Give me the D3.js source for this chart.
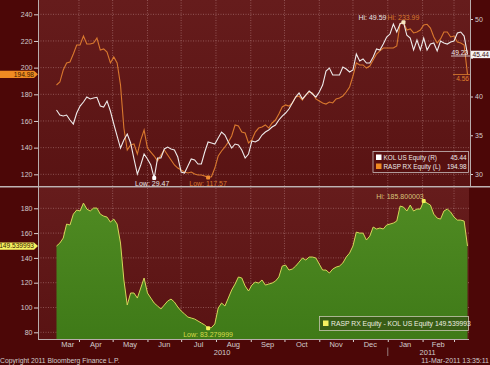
<!DOCTYPE html>
<html><head><meta charset="utf-8">
<script src="https://cdn.jsdelivr.net/npm/d3@7"></script>
<style>
body{margin:0;background:#4c0707;}
svg{display:block;font-family:"Liberation Sans",Arial,sans-serif;}
</style>
</head><body>
<svg id="c" width="490" height="365"></svg>
<script>
// ---------------- DATA ----------------
const dates = [
"2010-03-12","2010-03-15","2010-03-18","2010-03-21","2010-03-24","2010-03-27","2010-03-30",
"2010-04-02","2010-04-05","2010-04-08","2010-04-11","2010-04-14","2010-04-17","2010-04-20","2010-04-23","2010-04-26","2010-04-29",
"2010-05-02","2010-05-05","2010-05-08","2010-05-11","2010-05-14","2010-05-17","2010-05-20","2010-05-23","2010-05-26","2010-05-29",
"2010-06-01","2010-06-04","2010-06-07","2010-06-10","2010-06-13","2010-06-16","2010-06-19","2010-06-22","2010-06-25","2010-06-28",
"2010-07-01","2010-07-04","2010-07-07","2010-07-10","2010-07-13","2010-07-16","2010-07-19","2010-07-22","2010-07-25","2010-07-28","2010-07-31",
"2010-08-03","2010-08-06","2010-08-09","2010-08-12","2010-08-15","2010-08-18","2010-08-21","2010-08-24","2010-08-27","2010-08-30",
"2010-09-02","2010-09-05","2010-09-08","2010-09-11","2010-09-14","2010-09-17","2010-09-20","2010-09-23","2010-09-26","2010-09-29",
"2010-10-02","2010-10-05","2010-10-08","2010-10-11","2010-10-14","2010-10-17","2010-10-20","2010-10-23","2010-10-26","2010-10-29",
"2010-11-01","2010-11-04","2010-11-07","2010-11-10","2010-11-13","2010-11-16","2010-11-19","2010-11-22","2010-11-25","2010-11-28",
"2010-12-01","2010-12-04","2010-12-07","2010-12-10","2010-12-13","2010-12-16","2010-12-19","2010-12-22","2010-12-25","2010-12-28","2010-12-31",
"2011-01-03","2011-01-06","2011-01-09","2011-01-12","2011-01-15","2011-01-18","2011-01-21","2011-01-24","2011-01-27","2011-01-30",
"2011-02-02","2011-02-05","2011-02-08","2011-02-11","2011-02-14","2011-02-17","2011-02-20","2011-02-23","2011-02-26",
"2011-03-01","2011-03-04","2011-03-07","2011-03-10","2011-03-13"
];
// RASP RX Equity (left axis)
const raspValues = [
187.0,189.2,198.2,203.5,204.2,210.2,217.0,217.0,223.7,217.7,
217.7,218.5,222.2,213.2,214.0,211.7,203.5,208.0,203.5,187.0,
154.7,138.2,142.0,142.7,135.2,145.7,153.2,139.7,136.7,133.7,
130.0,134.5,138.2,134.5,130.7,127.0,124.7,123.2,121.7,121.0,
121.7,120.2,119.5,119.5,118.7,117.57,118.2,124.7,133.7,137.5,
140.5,144.2,148.7,157.0,156.2,151.7,151.0,143.5,145.7,151.7,
154.7,155.5,157.0,154.7,158.5,160.7,165.2,170.5,172.0,171.2,
173.5,178.0,178.7,175.7,179.5,181.7,181.0,176.5,175.0,173.5,
172.7,174.2,173.5,176.5,177.2,178.7,181.7,185.5,193.7,203.5,
202.0,202.0,199.7,201.2,205.7,210.2,212.5,214.7,214.7,214.7,
214.7,216.2,233.2,233.99,228.2,229.0,226.0,226.7,228.2,232.0,
232.5,229.7,223.0,218.5,221.5,226.7,226.7,223.0,223.7,219.2,
218.5,217.0,194.98
];
// KOL US Equity (right axis)
const kolValues = [
38.26,37.61,37.48,37.61,36.97,36.45,37.87,38.77,39.29,39.93,
39.68,39.80,39.90,38.77,38.64,39.42,38.13,36.45,34.90,33.35,
34.39,35.16,34.00,31.94,30.00,31.16,32.58,31.94,31.16,29.47,
32.06,32.06,33.23,33.48,33.23,33.10,32.19,30.26,30.13,31.03,
31.94,31.81,31.29,31.29,32.84,34.13,34.00,33.87,34.64,35.42,
35.03,34.13,33.35,33.87,33.74,33.10,32.06,32.58,34.26,34.13,
34.39,35.03,35.42,35.68,36.06,36.32,36.97,37.48,37.87,38.39,
39.16,39.93,40.45,39.68,40.19,40.71,40.32,39.93,40.58,41.48,
43.29,43.67,42.77,42.77,42.77,43.80,43.55,43.16,43.42,45.48,
44.58,44.84,44.32,44.32,45.09,46.13,46.00,46.77,47.67,48.06,
49.35,48.32,49.40,49.59,47.90,47.54,46.00,47.29,46.00,47.54,
46.00,46.77,46.90,45.87,47.16,46.90,46.77,47.03,47.16,48.19,
48.32,47.80,45.44
];
// RASP RX Equity - KOL US Equity
const spreadValues = [
149.56,152.0,156.0,167.3,166.5,175.3,178.6,177.8,184.2,179.4,
177.8,180.2,180.2,175.3,173.7,172.9,168.9,171.3,167.3,152.0,
122.2,102.0,111.7,111.7,107.6,115.7,123.8,111.7,107.6,103.6,
101.2,98.8,102.0,105.2,106.8,104.4,100.4,97.2,94.8,92.3,
91.5,90.7,89.1,87.5,85.9,83.28,83.8,86.7,99.6,103.6,
101.2,107.6,114.1,118.9,124.6,123.8,117.3,113.3,118.1,120.5,
119.7,122.2,118.1,118.9,119.7,121.3,124.6,133.4,134.2,130.2,
131.0,133.4,136.6,139.9,138.3,140.7,140.7,139.9,135.0,130.2,
130.2,127.8,131.0,132.6,133.4,135.9,140.7,143.9,149.6,160.8,
160.0,160.0,154.4,157.6,164.9,163.3,164.1,163.3,166.5,167.3,
168.1,169.7,181.8,181.0,177.8,182.6,177.8,179.4,179.4,185.8,
184.2,182.6,175.3,172.1,171.3,177.8,179.4,177.0,172.9,170.5,
170.5,169.7,149.54
];
const leftTicks = [120,140,160,180,200,220,240];
const rightTicks = [30,35,40,45,50];
const spreadTicks = [80,100,120,140,160,180];
const monthStarts = ["2010-03-01","2010-04-01","2010-05-01","2010-06-01","2010-07-01","2010-08-01","2010-09-01","2010-10-01","2010-11-01","2010-12-01","2011-01-01","2011-02-01","2011-03-01"];
const monthLabels = ["Mar","Apr","May","Jun","Jul","Aug","Sep","Oct","Nov","Dec","Jan","Feb"];
const yearLabels = ["2010","2011"];
const yearStarts = ["2010-01-01","2011-01-01","2012-01-01"];
const seriesNames = ["KOL US Equity (R)","RASP RX Equity (L)","RASP RX Equity - KOL US Equity"];
const extraLabels = ["49.22","4.56"];

// ---------------- CHART ----------------
const svg = d3.select("#c");
const parse = d3.timeParse("%Y-%m-%d");
const dt = dates.map(parse);
const first = dt[0], last = dt[dt.length-1];

const P1 = {l:38, r:470, t:0, b:186};
const P2 = {l:38, r:469, t:188, b:339};

const x = d3.scaleTime().domain([first,last]).range([56.5,467.5]);
const yL = d3.scaleLinear().domain([120,240]).range([174.3,14.3]);
const yR = d3.scaleLinear().domain([30,50]).range([174,19]);
const yB = d3.scaleLinear().domain([80,180]).range([332.3,208.3]);

const TXT = "#d2cccc", GRID = "rgba(230,190,190,0.45)";
const fmt2 = d3.format(".2f");
const lastR = raspValues[raspValues.length-1], lastK = kolValues[kolValues.length-1], lastS = spreadValues[spreadValues.length-1];

svg.append("rect").attr("width",490).attr("height",365).attr("fill","#4c0707");

const defs = svg.append("defs");
const bg = defs.append("linearGradient").attr("id","bg").attr("x1",0).attr("y1",0).attr("x2",0).attr("y2",1);
bg.append("stop").attr("offset","0").attr("stop-color","#661c1c");
bg.append("stop").attr("offset","1").attr("stop-color","#591313");
const gg = defs.append("linearGradient").attr("id","gg").attr("x1",0).attr("y1",0).attr("x2",0).attr("y2",1);
gg.append("stop").attr("offset","0").attr("stop-color","#4f8a22");
gg.append("stop").attr("offset","1").attr("stop-color","#3f7a18");
defs.append("clipPath").attr("id","c1").append("rect").attr("x",P1.l).attr("y",P1.t).attr("width",P1.r-P1.l).attr("height",P1.b-P1.t);
defs.append("clipPath").attr("id","c2").append("rect").attr("x",P2.l).attr("y",P2.t).attr("width",P2.r-P2.l).attr("height",P2.b-P2.t);

[P1,P2].forEach(p=>svg.append("rect").attr("x",p.l).attr("y",p.t).attr("width",p.r-p.l).attr("height",p.b-p.t).attr("fill","url(#bg)"));

// grids
const mDates = monthStarts.map(parse);
const gridMonths = mDates.slice(1);
function grid(p, yScale, ticks, cid){
  const g = svg.append("g").attr("clip-path",`url(#${cid})`).attr("stroke",GRID).attr("stroke-width",0.8).attr("stroke-dasharray","1,1.5");
  g.selectAll("line.h").data(ticks).join("line").attr("x1",p.l).attr("x2",p.r).attr("y1",d=>yScale(d)).attr("y2",d=>yScale(d));
  g.selectAll("line.v").data(gridMonths).join("line").attr("x1",d=>x(d)).attr("x2",d=>x(d)).attr("y1",p.t).attr("y2",p.b);
}
grid(P1,yL,leftTicks,"c1");
grid(P2,yB,spreadTicks,"c2");

// lines and area
const lineL = d3.line().x((d,i)=>x(dt[i])).y(d=>yL(d));
const lineR = d3.line().x((d,i)=>x(dt[i])).y(d=>yR(d));
const lineB = d3.line().x((d,i)=>x(dt[i])).y(d=>yB(d));
const areaB = d3.area().x((d,i)=>x(dt[i])).y0(P2.b).y1(d=>yB(d));

const g1 = svg.append("g").attr("clip-path","url(#c1)");
g1.append("path").datum(raspValues).attr("d",lineL).attr("fill","none").attr("stroke","#d9782e").attr("stroke-width",1.1);
g1.append("path").datum(kolValues).attr("d",lineR).attr("fill","none").attr("stroke","#eeeaea").attr("stroke-width",1.1);

const g2 = svg.append("g").attr("clip-path","url(#c2)");
g2.append("path").datum(spreadValues).attr("d",areaB).attr("fill","url(#gg)");
g2.append("path").datum(spreadValues).attr("d",lineB).attr("fill","none").attr("stroke","#d6d65a").attr("stroke-width",1);

// axes
function styleAxis(g){
  g.selectAll("text").attr("fill",TXT).style("font-size","7px").style("font-family","'Liberation Sans',Arial,sans-serif");
  g.selectAll("line").attr("stroke","#d8d0d0");
  g.select(".domain").remove();
}
svg.append("g").attr("transform",`translate(${P1.l},0)`).call(d3.axisLeft(yL).tickValues(leftTicks).tickSize(4).tickPadding(1.5)).call(styleAxis);
// the right-axis label that sits under the last-value tag is hidden by it in the reference
svg.append("g").attr("transform",`translate(${P1.r},0)`)
  .call(d3.axisRight(yR).tickValues(rightTicks).tickSize(3).tickPadding(2)
    .tickFormat(d=>Math.abs(yR(d)-yR(lastK))<8 ? "" : d))
  .call(styleAxis);
svg.append("g").attr("transform",`translate(${P2.l},0)`).call(d3.axisLeft(yB).tickValues(spreadTicks).tickSize(4).tickPadding(1.5)).call(styleAxis);
svg.append("g").attr("transform",`translate(0,${P2.b})`).call(d3.axisBottom(x).tickValues(gridMonths).tickSize(3).tickFormat("")).call(styleAxis);

// frame lines
const fr = svg.append("g").attr("stroke","#b9acac");
fr.append("line").attr("x1",P1.l+0.5).attr("x2",P1.l+0.5).attr("y1",0).attr("y2",P2.b).attr("stroke-width",1);
fr.append("line").attr("x1",P1.r+0.5).attr("x2",P1.r+0.5).attr("y1",0).attr("y2",P1.b).attr("stroke-width",1);
fr.append("line").attr("x1",0).attr("x2",490).attr("y1",186.8).attr("y2",186.8).attr("stroke-width",1.6).attr("stroke","#bfb3b3");
fr.append("line").attr("x1",P2.l).attr("x2",P2.r).attr("y1",P2.b+0.5).attr("y2",P2.b+0.5).attr("stroke-width",1);

// month labels
const monthG = svg.append("g").attr("fill",TXT).style("font-size","7.5px").attr("text-anchor","middle");
monthLabels.forEach((m,i)=>{
  const a = mDates[i] < first ? first : mDates[i];
  const b = mDates[i+1] > last ? last : mDates[i+1];
  monthG.append("text").attr("x",(x(a)+x(b))/2).attr("y",346.5).text(m);
});
const yD = yearStarts.map(parse);
yearLabels.forEach((yl,i)=>{
  const a = yD[i] < first ? first : yD[i];
  const b = yD[i+1] > last ? last : yD[i+1];
  monthG.append("text").attr("x",(x(a)+x(b))/2).attr("y",355).text(yl);
});
svg.append("line").attr("x1",x(yD[1])).attr("x2",x(yD[1])).attr("y1",347.5).attr("y2",356).attr("stroke","#a89a9a").attr("stroke-width",0.8);

// footer
svg.append("text").attr("x",0).attr("y",363).attr("fill",TXT).style("font-size","6.8px").text("Copyright 2011 Bloomberg Finance L.P.");
svg.append("text").attr("x",489).attr("y",363).attr("text-anchor","end").attr("fill",TXT).style("font-size","7px").text("11-Mar-2011 13:35:11");

// hi / low markers
function ext(vals, fn){ const v = fn(vals); return {i: vals.indexOf(v), v}; }
const kLo = ext(kolValues,d3.min), kHi = ext(kolValues,d3.max);
const rLo = ext(raspValues,d3.min), rHi = ext(raspValues,d3.max);
const sLo = ext(spreadValues,d3.min), sHi = ext(spreadValues,d3.max);
const mk = svg.append("g").style("font-size","7px");
function dot(cx,cy,col){ mk.append("rect").attr("x",cx-2).attr("y",cy-2).attr("width",4).attr("height",4).attr("rx",1).attr("fill",col); }
dot(x(dt[kLo.i]), yR(kLo.v), "#ffffff");
mk.append("text").attr("x",x(dt[kLo.i])-2).attr("y",185.5).attr("text-anchor","middle").attr("fill","#e8e4e4").text("Low: "+fmt2(kLo.v));
dot(x(dt[rLo.i]), yL(rLo.v), "#f08a30");
mk.append("text").attr("x",x(dt[rLo.i])).attr("y",185.5).attr("text-anchor","middle").attr("fill","#d8782e").text("Low: "+fmt2(rLo.v));
dot(x(dt[rHi.i]), yL(rHi.v), "#f6e6c0");
mk.append("text").attr("x",x(dt[kHi.i])-17).attr("y",19.5).attr("text-anchor","end").attr("fill","#e8e4e4").text("Hi: "+fmt2(kHi.v));
mk.append("text").attr("x",x(dt[rHi.i])-16).attr("y",19.5).attr("fill","#d8782e").text("Hi: "+fmt2(rHi.v));
dot(x(dt[sLo.i]), yB(sLo.v), "#f2f25a");
mk.append("text").attr("x",x(dt[sLo.i])).attr("y",336.5).attr("text-anchor","middle").attr("fill","#d8dc4a").text("Low: "+d3.format(".6f")(sLo.v-0.000001));
dot(x(dt[sHi.i]), yB(sHi.v), "#f2f25a");
mk.append("text").attr("x",x(dt[sHi.i])).attr("y",198.5).attr("text-anchor","end").attr("fill","#d9c27a").text("Hi: "+d3.format(".6f")(sHi.v+0.000003));

// extra side labels
svg.append("text").attr("x",468).attr("y",54.5).attr("text-anchor","end").attr("fill","#eeeaea").style("font-size","6.6px").text(extraLabels[0]);
svg.append("line").attr("x1",451).attr("x2",470).attr("y1",56).attr("y2",56).attr("stroke","#eeeaea").attr("stroke-width",0.8);
svg.append("text").attr("x",469).attr("y",80.5).attr("text-anchor","end").attr("fill","#e0802e").style("font-size","6.6px").text(extraLabels[1]);
svg.append("line").attr("x1",453).attr("x2",470).attr("y1",74.5).attr("y2",74.5).attr("stroke","#e0802e").attr("stroke-width",0.8);

// last value tags
function leftTag(cy, fill, txt){
  svg.append("path").attr("d",`M0,${cy-3.6}H34L38,${cy}L34,${cy+3.6}H0Z`).attr("fill",fill);
  svg.append("text").attr("x",34).attr("y",cy+2.4).attr("text-anchor","end").attr("fill","#3a1a00").style("font-size","6.6px").text(txt);
}
leftTag(yL(lastR),"#f08a22",fmt2(lastR));
leftTag(yB(lastS),"#f4f060",d3.format(".6f")(lastS-0.000007));
const ky = yR(lastK);
svg.append("rect").attr("x",471).attr("y",ky-3.6).attr("width",19).attr("height",7.4).attr("fill","#f4f2f2");
svg.append("text").attr("x",489).attr("y",ky+2.4).attr("text-anchor","end").attr("fill","#401010").style("font-size","6.6px").text(fmt2(lastK));

// legends
const lg1 = svg.append("g");
lg1.append("rect").attr("x",373).attr("y",151.5).attr("width",95.5).attr("height",21).attr("fill","rgba(80,10,10,0.35)").attr("stroke","#c8bcbc").attr("stroke-width",0.8);
const leg1 = [{c:"#ffffff",n:seriesNames[0],v:fmt2(lastK)},{c:"#f08a22",n:seriesNames[1],v:fmt2(lastR)}];
leg1.forEach((d,i)=>{
  const yy = 154.5 + i*9;
  lg1.append("rect").attr("x",376).attr("y",yy).attr("width",5.5).attr("height",5.5).attr("fill",d.c);
  lg1.append("text").attr("x",383.5).attr("y",yy+5.3).attr("fill","#eeeaea").style("font-size","6.4px").text(d.n);
  lg1.append("text").attr("x",466.5).attr("y",yy+5.3).attr("text-anchor","end").attr("fill","#eeeaea").style("font-size","6.4px").text(d.v);
});
const lg2 = svg.append("g");
lg2.append("rect").attr("x",319.5).attr("y",316.5).attr("width",149).attr("height",14).attr("fill","rgba(50,70,20,0.55)").attr("stroke","#c8c8b0").attr("stroke-width",0.8);
lg2.append("rect").attr("x",323).attr("y",320.5).attr("width",5.5).attr("height",5.5).attr("fill","#f4f060");
lg2.append("text").attr("x",331).attr("y",326.2).attr("fill","#eeeee0").style("font-size","6.8px").text(seriesNames[2]+" "+d3.format(".6f")(lastS-0.000007));
</script>
</body></html>
